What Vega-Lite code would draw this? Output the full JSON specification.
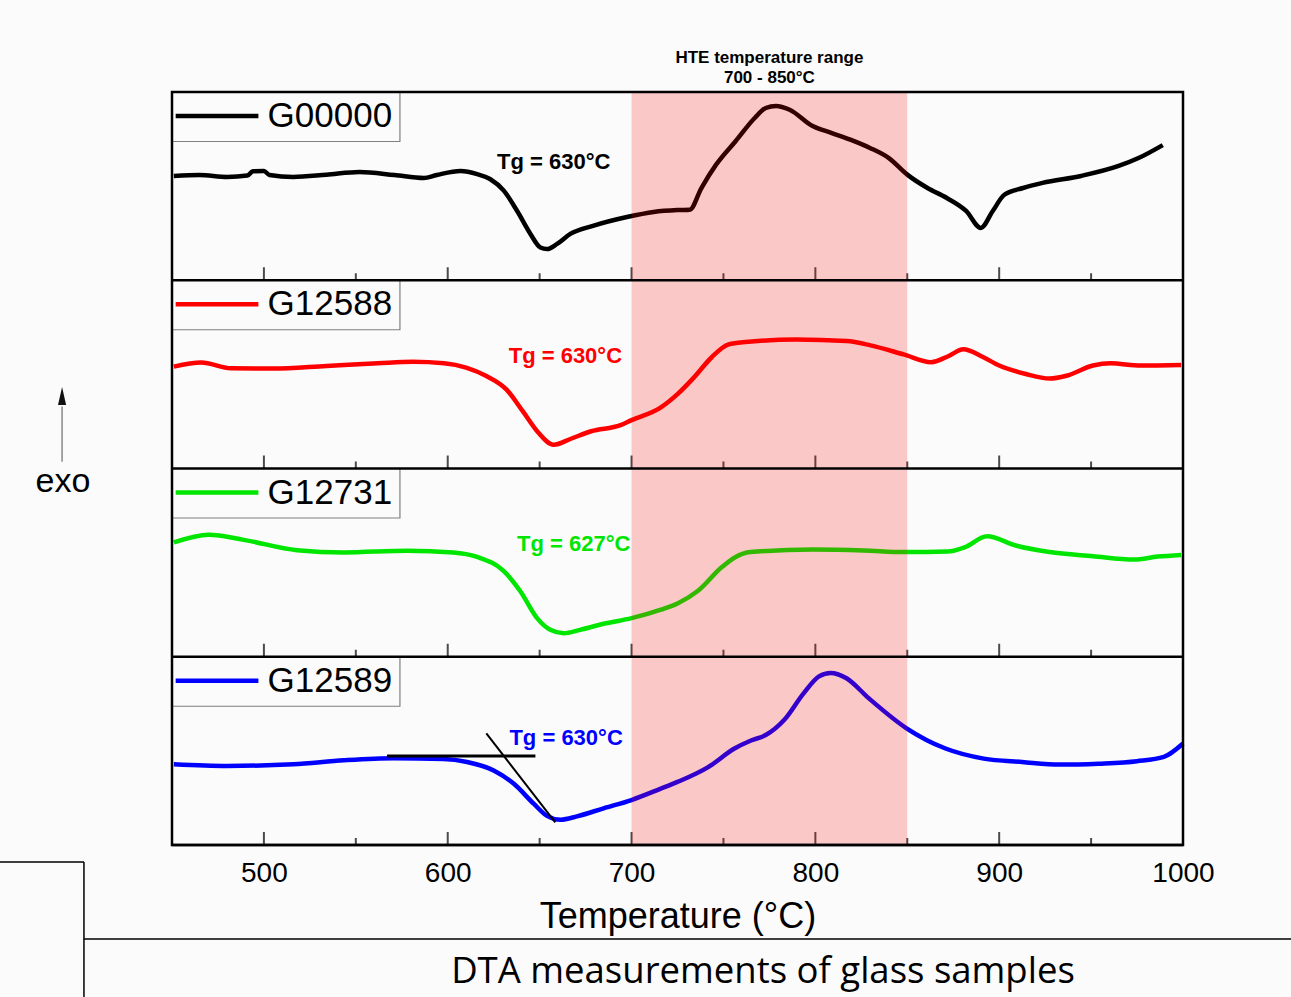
{
  "$schema": "https://vega.github.io/schema/vega-lite/v6.json",
  "width": 1011,
  "height": 753,
  "autosize": {"type": "none"},
  "padding": {"left": 172, "top": 92, "right": 108, "bottom": 152},
  "background": "#fbfbfb",
  "config": {"view": {"stroke": null}, "font": "Liberation Sans"},
  "data": {"values": [{"one": 1}]},
  "datasets": {
    "curves": [
      {"s":"G00000","t":451,"v":3.554},{"s":"G00000","t":465,"v":3.559},{"s":"G00000","t":480,"v":3.549},{"s":"G00000","t":491,"v":3.556},{"s":"G00000","t":494,"v":3.579},{"s":"G00000","t":500,"v":3.58},{"s":"G00000","t":503,"v":3.559},{"s":"G00000","t":516,"v":3.549},{"s":"G00000","t":534,"v":3.561},{"s":"G00000","t":552,"v":3.575},{"s":"G00000","t":571,"v":3.559},{"s":"G00000","t":587,"v":3.543},{"s":"G00000","t":594,"v":3.559},{"s":"G00000","t":607,"v":3.58},{"s":"G00000","t":616,"v":3.564},{"s":"G00000","t":623,"v":3.538},{"s":"G00000","t":630.5,"v":3.476},{"s":"G00000","t":637.7,"v":3.369},{"s":"G00000","t":645,"v":3.246},{"s":"G00000","t":650.4,"v":3.174},{"s":"G00000","t":654,"v":3.166},{"s":"G00000","t":659.5,"v":3.193},{"s":"G00000","t":666.7,"v":3.246},{"s":"G00000","t":679,"v":3.289},{"s":"G00000","t":697.5,"v":3.336},{"s":"G00000","t":712,"v":3.363},{"s":"G00000","t":725,"v":3.373},{"s":"G00000","t":731.7,"v":3.375},{"s":"G00000","t":738,"v":3.49},{"s":"G00000","t":746,"v":3.614},{"s":"G00000","t":756.7,"v":3.74},{"s":"G00000","t":767,"v":3.862},{"s":"G00000","t":773,"v":3.915},{"s":"G00000","t":778.6,"v":3.926},{"s":"G00000","t":786,"v":3.906},{"s":"G00000","t":798.5,"v":3.819},{"s":"G00000","t":809,"v":3.782},{"s":"G00000","t":819,"v":3.747},{"s":"G00000","t":829.7,"v":3.703},{"s":"G00000","t":840,"v":3.649},{"s":"G00000","t":850,"v":3.561},{"s":"G00000","t":861,"v":3.49},{"s":"G00000","t":871.5,"v":3.437},{"s":"G00000","t":882,"v":3.368},{"s":"G00000","t":890,"v":3.278},{"s":"G00000","t":896.5,"v":3.368},{"s":"G00000","t":902.8,"v":3.454},{"s":"G00000","t":913,"v":3.49},{"s":"G00000","t":923.6,"v":3.517},{"s":"G00000","t":944.5,"v":3.554},{"s":"G00000","t":965,"v":3.607},{"s":"G00000","t":975.8,"v":3.649},{"s":"G00000","t":989,"v":3.718},
      {"s":"G12588","t":451,"v":2.541},{"s":"G12588","t":466,"v":2.563},{"s":"G12588","t":482,"v":2.532},{"s":"G12588","t":505,"v":2.531},{"s":"G12588","t":534,"v":2.545},{"s":"G12588","t":562,"v":2.559},{"s":"G12588","t":581,"v":2.567},{"s":"G12588","t":598,"v":2.559},{"s":"G12588","t":610,"v":2.536},{"s":"G12588","t":621,"v":2.491},{"s":"G12588","t":632,"v":2.419},{"s":"G12588","t":641,"v":2.302},{"s":"G12588","t":649,"v":2.194},{"s":"G12588","t":657.6,"v":2.126},{"s":"G12588","t":667,"v":2.158},{"s":"G12588","t":678,"v":2.198},{"s":"G12588","t":694,"v":2.23},{"s":"G12588","t":700,"v":2.257},{"s":"G12588","t":716,"v":2.325},{"s":"G12588","t":725,"v":2.395},{"s":"G12588","t":734,"v":2.484},{"s":"G12588","t":743.6,"v":2.591},{"s":"G12588","t":752.8,"v":2.659},{"s":"G12588","t":762,"v":2.672},{"s":"G12588","t":789.5,"v":2.685},{"s":"G12588","t":817,"v":2.677},{"s":"G12588","t":830,"v":2.654},{"s":"G12588","t":848,"v":2.606},{"s":"G12588","t":863,"v":2.565},{"s":"G12588","t":872,"v":2.595},{"s":"G12588","t":880.5,"v":2.633},{"s":"G12588","t":890.6,"v":2.595},{"s":"G12588","t":900,"v":2.547},{"s":"G12588","t":914.5,"v":2.502},{"s":"G12588","t":927.4,"v":2.478},{"s":"G12588","t":936.6,"v":2.493},{"s":"G12588","t":951,"v":2.547},{"s":"G12588","t":960.5,"v":2.559},{"s":"G12588","t":977,"v":2.547},{"s":"G12588","t":999,"v":2.55},
      {"s":"G12731","t":451,"v":1.607},{"s":"G12731","t":470,"v":1.648},{"s":"G12731","t":489,"v":1.621},{"s":"G12731","t":518,"v":1.566},{"s":"G12731","t":543.5,"v":1.554},{"s":"G12731","t":578,"v":1.563},{"s":"G12731","t":603,"v":1.554},{"s":"G12731","t":616,"v":1.53},{"s":"G12731","t":630.5,"v":1.455},{"s":"G12731","t":639.5,"v":1.348},{"s":"G12731","t":648.6,"v":1.205},{"s":"G12731","t":655.8,"v":1.143},{"s":"G12731","t":663,"v":1.125},{"s":"G12731","t":672,"v":1.143},{"s":"G12731","t":684.8,"v":1.175},{"s":"G12731","t":700,"v":1.205},{"s":"G12731","t":716,"v":1.25},{"s":"G12731","t":725,"v":1.283},{"s":"G12731","t":736,"v":1.349},{"s":"G12731","t":749,"v":1.475},{"s":"G12731","t":756.4,"v":1.529},{"s":"G12731","t":764.7,"v":1.556},{"s":"G12731","t":798.7,"v":1.57},{"s":"G12731","t":826.3,"v":1.565},{"s":"G12731","t":848.3,"v":1.556},{"s":"G12731","t":872,"v":1.559},{"s":"G12731","t":881.4,"v":1.582},{"s":"G12731","t":893.4,"v":1.64},{"s":"G12731","t":909,"v":1.591},{"s":"G12731","t":927.4,"v":1.556},{"s":"G12731","t":951,"v":1.534},{"s":"G12731","t":973.3,"v":1.516},{"s":"G12731","t":986.2,"v":1.532},{"s":"G12731","t":999,"v":1.541},
      {"s":"G12589","t":451,"v":0.429},{"s":"G12589","t":480,"v":0.42},{"s":"G12589","t":516,"v":0.429},{"s":"G12589","t":543.5,"v":0.45},{"s":"G12589","t":570.7,"v":0.461},{"s":"G12589","t":597.8,"v":0.457},{"s":"G12589","t":610.5,"v":0.441},{"s":"G12589","t":625,"v":0.396},{"s":"G12589","t":636,"v":0.325},{"s":"G12589","t":646.9,"v":0.218},{"s":"G12589","t":654,"v":0.155},{"s":"G12589","t":661.4,"v":0.134},{"s":"G12589","t":670.3,"v":0.152},{"s":"G12589","t":684.8,"v":0.195},{"s":"G12589","t":700,"v":0.239},{"s":"G12589","t":715.6,"v":0.298},{"s":"G12589","t":725,"v":0.335},{"s":"G12589","t":741.7,"v":0.414},{"s":"G12589","t":756,"v":0.5125},{"s":"G12589","t":765,"v":0.555},{"s":"G12589","t":773,"v":0.584},{"s":"G12589","t":783,"v":0.664},{"s":"G12589","t":793.7,"v":0.807},{"s":"G12589","t":802,"v":0.896},{"s":"G12589","t":808.3,"v":0.914},{"s":"G12589","t":816.7,"v":0.8875},{"s":"G12589","t":829,"v":0.78},{"s":"G12589","t":849.6,"v":0.62},{"s":"G12589","t":870.8,"v":0.5125},{"s":"G12589","t":891.6,"v":0.459},{"s":"G12589","t":912.5,"v":0.441},{"s":"G12589","t":933,"v":0.427},{"s":"G12589","t":954,"v":0.432},{"s":"G12589","t":975,"v":0.445},{"s":"G12589","t":989.6,"v":0.468},{"s":"G12589","t":1000,"v":0.539}
    ],
    "tg": [
      {"s":"G00000","label":"Tg = 630°C","t":657.7,"v":3.628},
      {"s":"G12588","label":"Tg = 630°C","t":664,"v":2.599},
      {"s":"G12731","label":"Tg = 627°C","t":668.5,"v":1.598},
      {"s":"G12589","label":"Tg = 630°C","t":664.4,"v":0.566}
    ],
    "panels": [
      {"s":"G00000","vb":3,"vt":4,"lb":3.737,"lm":3.8725},
      {"s":"G12588","vb":2,"vt":3,"lb":2.737,"lm":2.8725},
      {"s":"G12731","vb":1,"vt":2,"lb":1.737,"lm":1.8725},
      {"s":"G12589","vb":0,"vt":1,"lb":0.737,"lm":0.8725}
    ],
    "ticks": [
      {"t":500,"kind":"major","vb":[0,1,2,3]},{"t":600,"kind":"major","vb":[0,1,2,3]},{"t":700,"kind":"major","vb":[0,1,2,3]},{"t":800,"kind":"major","vb":[0,1,2,3]},{"t":900,"kind":"major","vb":[0,1,2,3]},
      {"t":550,"kind":"minor","vb":[0,1,2,3]},{"t":650,"kind":"minor","vb":[0,1,2,3]},{"t":750,"kind":"minor","vb":[0,1,2,3]},{"t":850,"kind":"minor","vb":[0,1,2,3]},{"t":950,"kind":"minor","vb":[0,1,2,3]}
    ]
  },
  "layer": [
    {
      "data": {"name": "curves"},
      "mark": {"type": "line", "strokeWidth": 4.5, "interpolate": "monotone"},
      "encoding": {
        "x": {"field": "t", "type": "quantitative", "scale": {"domain": [450, 1000], "nice": false, "zero": false},
              "axis": {"values": [500, 600, 700, 800, 900, 1000], "format": "d", "labelFlush": false, "labelOverlap": false, "ticks": false, "domain": false, "grid": false, "labelFontSize": 28, "labelColor": "#000", "labelFont": "Liberation Sans", "labelPadding": 14, "title": "Temperature (°C)", "titleFont": "Liberation Sans", "titleFontSize": 36, "titleFontWeight": "normal", "titleColor": "#000", "titlePadding": 12}},
        "y": {"field": "v", "type": "quantitative", "scale": {"domain": [0, 4], "nice": false, "zero": false}, "axis": null},
        "color": {"field": "s", "type": "nominal", "scale": {"domain": ["G00000", "G12588", "G12731", "G12589"], "range": ["#000000", "#ff0000", "#00e600", "#0000ff"]}, "legend": null},
        "detail": {"field": "s"}
      }
    },
    {
      "mark": {"type": "rule", "color": "#000", "strokeWidth": 3},
      "encoding": {
        "x": {"datum": 567, "type": "quantitative"},
        "x2": {"datum": 647.7},
        "y": {"datum": 0.473, "type": "quantitative", "axis": null}
      }
    },
    {
      "mark": {"type": "rule", "color": "#000", "strokeWidth": 2},
      "encoding": {
        "x": {"datum": 621, "type": "quantitative"},
        "x2": {"datum": 658.5},
        "y": {"datum": 0.593, "type": "quantitative", "axis": null},
        "y2": {"datum": 0.12}
      }
    },
    {
      "data": {"name": "tg"},
      "mark": {"type": "text", "font": "Liberation Sans", "fontSize": 22, "fontWeight": "bold", "align": "center", "baseline": "middle"},
      "encoding": {
        "x": {"field": "t", "type": "quantitative"},
        "y": {"field": "v", "type": "quantitative", "axis": null},
        "text": {"field": "label"},
        "color": {"field": "s", "type": "nominal", "legend": null}
      }
    },
    {
      "data": {"name": "ticks"},
      "transform": [{"flatten": ["vb"]}, {"filter": "datum.kind === 'major'"}],
      "mark": {"type": "tick", "orient": "vertical", "size": 13, "thickness": 2, "yOffset": -6.5, "color": "#000"},
      "encoding": {
        "x": {"field": "t", "type": "quantitative"},
        "y": {"field": "vb", "type": "quantitative", "axis": null}
      }
    },
    {
      "data": {"name": "ticks"},
      "transform": [{"flatten": ["vb"]}, {"filter": "datum.kind === 'minor'"}],
      "mark": {"type": "tick", "orient": "vertical", "size": 7, "thickness": 2, "yOffset": -3.5, "color": "#000"},
      "encoding": {
        "x": {"field": "t", "type": "quantitative"},
        "y": {"field": "vb", "type": "quantitative", "axis": null}
      }
    },
    {
      "mark": {"type": "rect", "color": "#ff0000", "opacity": 0.2},
      "encoding": {
        "x": {"datum": 700, "type": "quantitative"},
        "x2": {"datum": 850},
        "y": {"datum": 0, "type": "quantitative", "axis": null},
        "y2": {"datum": 4}
      }
    },
    {
      "data": {"name": "panels"},
      "mark": {"type": "rect", "fill": "#fbfbfb", "stroke": "#808080", "strokeWidth": 1.2},
      "encoding": {
        "x": {"datum": 450, "type": "quantitative"},
        "x2": {"datum": 574},
        "y": {"field": "vt", "type": "quantitative", "axis": null},
        "y2": {"field": "lb"}
      }
    },
    {
      "data": {"name": "panels"},
      "mark": {"type": "rule", "strokeWidth": 4.5},
      "encoding": {
        "x": {"datum": 452, "type": "quantitative"},
        "x2": {"datum": 497},
        "y": {"field": "lm", "type": "quantitative", "axis": null},
        "color": {"field": "s", "type": "nominal", "legend": null}
      }
    },
    {
      "data": {"name": "panels"},
      "mark": {"type": "text", "font": "Liberation Sans", "fontSize": 35, "align": "left", "baseline": "middle", "color": "#000"},
      "encoding": {
        "x": {"datum": 502, "type": "quantitative"},
        "y": {"field": "lm", "type": "quantitative", "axis": null},
        "text": {"field": "s"}
      }
    },
    {
      "data": {"name": "panels"},
      "mark": {"type": "rule", "color": "#000", "strokeWidth": 2.5},
      "encoding": {
        "x": {"datum": 450, "type": "quantitative"},
        "x2": {"datum": 1000},
        "y": {"field": "vb", "type": "quantitative", "axis": null}
      }
    },
    {
      "mark": {"type": "rect", "fill": null, "fillOpacity": 0, "stroke": "#000", "strokeWidth": 2.5},
      "encoding": {
        "x": {"datum": 450, "type": "quantitative"},
        "x2": {"datum": 1000},
        "y": {"datum": 0, "type": "quantitative", "axis": null},
        "y2": {"datum": 4}
      }
    },
    {
      "mark": {"type": "text", "font": "Liberation Sans", "fontSize": 17, "fontWeight": "bold", "align": "center", "baseline": "middle", "lineBreak": "\n", "lineHeight": 20, "color": "#000"},
      "encoding": {
        "x": {"datum": 775, "type": "quantitative"},
        "y": {"datum": 4.181, "type": "quantitative", "axis": null},
        "text": {"value": "HTE temperature range\n700 - 850°C"}
      }
    },
    {
      "mark": {"type": "text", "font": "Liberation Sans", "fontSize": 34, "align": "center", "baseline": "middle", "color": "#000"},
      "encoding": {
        "x": {"datum": 390.7, "type": "quantitative"},
        "y": {"datum": 1.928, "type": "quantitative", "axis": null},
        "text": {"value": "exo"}
      }
    },
    {
      "mark": {"type": "rule", "color": "#888888", "strokeWidth": 1.5},
      "encoding": {
        "x": {"datum": 390.2, "type": "quantitative"},
        "y": {"datum": 2.036, "type": "quantitative", "axis": null},
        "y2": {"datum": 2.33}
      }
    },
    {
      "mark": {"type": "point", "shape": "M0,-1L0.45,1L-0.45,1Z", "size": 324, "filled": true, "color": "#111111", "opacity": 1},
      "encoding": {
        "x": {"datum": 390.2, "type": "quantitative"},
        "y": {"datum": 2.385, "type": "quantitative", "axis": null}
      }
    },
    {
      "mark": {"type": "rule", "color": "#000", "strokeWidth": 1.5},
      "encoding": {
        "x": {"datum": 402.1, "type": "quantitative"},
        "x2": {"datum": 1062},
        "y": {"datum": -0.499, "type": "quantitative", "axis": null}
      }
    },
    {
      "mark": {"type": "rule", "color": "#000", "strokeWidth": 1.5},
      "encoding": {
        "x": {"datum": 402.1, "type": "quantitative"},
        "y": {"datum": -0.0903, "type": "quantitative", "axis": null},
        "y2": {"datum": -0.9}
      }
    },
    {
      "mark": {"type": "rule", "color": "#000", "strokeWidth": 1.5},
      "encoding": {
        "x": {"datum": 350, "type": "quantitative"},
        "x2": {"datum": 402.1},
        "y": {"datum": -0.0903, "type": "quantitative", "axis": null}
      }
    },
    {
      "mark": {"type": "text", "font": "Open Sans", "fontSize": 36.5, "align": "center", "baseline": "middle", "color": "#000"},
      "encoding": {
        "x": {"datum": 771.5, "type": "quantitative"},
        "y": {"datum": -0.672, "type": "quantitative", "axis": null},
        "text": {"value": "DTA measurements of glass samples"}
      }
    }
  ]
}
